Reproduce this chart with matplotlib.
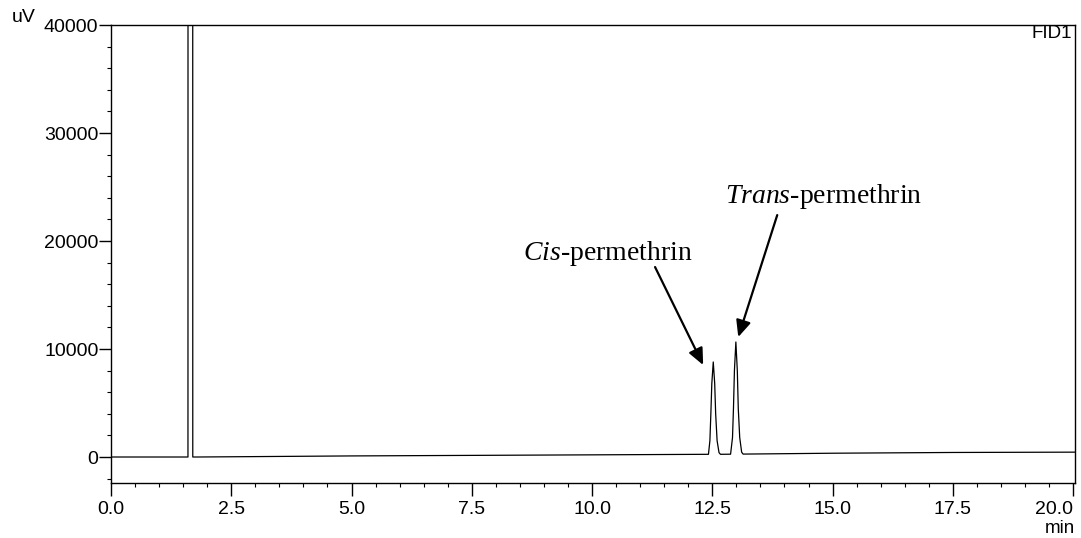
import matplotlib
matplotlib.use("Agg")
import matplotlib.pyplot as plt
from matplotlib.ticker import MultipleLocator, FixedLocator

# ---- data ----
time_min = [0.00, 1.60, 1.62, 1.68, 1.70, 1.80, 5.00, 10.00,
            12.42, 12.45, 12.47, 12.49, 12.52, 12.55, 12.57, 12.60, 12.64, 12.67,
            12.88, 12.92, 12.94, 12.96, 12.99, 13.02, 13.04, 13.07, 13.11, 13.14,
            15.00, 17.50, 20.10]
signal_uv = [0, 0, 900000, 900000, 0, 0, 100, 200,
             250, 1500, 4000, 6800, 8800, 6800, 4000, 1500, 400, 250,
             260, 1800, 4500, 8000, 10650, 8000, 4500, 1800, 450, 270,
             350, 420, 450]

x_ticks = [0.0, 2.5, 5.0, 7.5, 10.0, 12.5, 15.0, 17.5, 20.0]
y_ticks = [0, 10000, 20000, 30000, 40000]

peak_names = ["Cis", "Trans"]
label_xy = [(8.57, 18240), (12.77, 23520)]
arrow_start = [(11.31, 17590), (13.85, 22400)]
arrow_tip = [(12.31, 8520), (13.04, 11110)]

plt.rcParams['mathtext.fontset'] = 'custom'
plt.rcParams['mathtext.it'] = 'Liberation Serif:italic'
plt.rcParams['mathtext.rm'] = 'Liberation Serif'

fig = plt.figure(figsize=(10.81, 5.38), dpi=100)
ax = fig.add_axes([111/1081, 55/538, 964/1081, 458/538])

ax.plot(time_min, signal_uv, color='black', lw=0.9)

ax.set_xlim(0, 20.04)
ax.set_ylim(-2407, 40000)

ax.xaxis.set_major_locator(FixedLocator(x_ticks))
ax.set_xticklabels([f"{v:.1f}" for v in x_ticks])
ax.xaxis.set_minor_locator(MultipleLocator(0.5))
ax.yaxis.set_major_locator(FixedLocator(y_ticks))
ax.set_yticklabels([str(v) for v in y_ticks])
ax.yaxis.set_minor_locator(MultipleLocator(2000))

ax.tick_params(which='major', direction='out', length=9, width=1, labelsize=14, pad=0)
ax.tick_params(which='minor', direction='out', length=3, width=0.8)
ax.tick_params(axis='x', pad=4)
for lab in ax.get_xticklabels() + ax.get_yticklabels():
    lab.set_family('Liberation Sans')
ax.get_xticklabels()[-1].set_ha('right')
ax.get_xticklabels()[-1].set_x(20.04)

for s in ax.spines.values():
    s.set_linewidth(1.0)

fig.text(12/1081, 1 - 22/538, "uV", family='Liberation Sans', fontsize=14, ha='left', va='baseline')
fig.text(1072/1081, 1 - 38/538, "FID1", family='Liberation Sans', fontsize=13.5, ha='right', va='baseline')
fig.text(1075/1081, 1 - 533/538, "min", family='Liberation Sans', fontsize=13.5, ha='right', va='baseline')

for name, txy, st, tip in zip(peak_names, label_xy, arrow_start, arrow_tip):
    ax.text(txy[0], txy[1], rf"$\mathit{{{name}}}$-permethrin", family='Liberation Serif',
            fontsize=20, ha='left', va='baseline')
    ax.annotate("", xy=tip, xytext=st,
                arrowprops=dict(arrowstyle='-|>,head_length=1.0,head_width=0.45', color='black',
                                lw=1.6, shrinkA=0, shrinkB=0, facecolor='#333333'))

fig.savefig("out.png", dpi=100)
